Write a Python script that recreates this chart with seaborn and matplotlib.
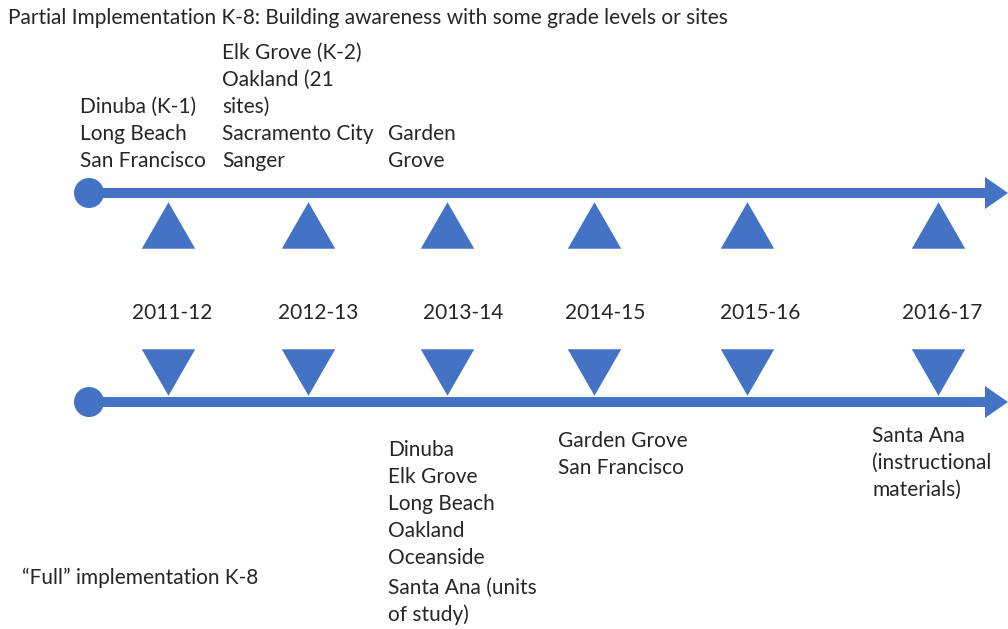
import matplotlib.pyplot as plt
from matplotlib.patches import Circle, FancyArrow
import seaborn as sns

# timeline data
years = ["2011-12", "2012-13", "2013-14", "2014-15", "2015-16", "2016-17"]
partial = {
    "2011-12": ["Dinuba (K-1)", "Long Beach", "San Francisco"],
    "2012-13": ["Elk Grove (K-2)", "Oakland (21", "sites)", "Sacramento City", "Sanger"],
    "2013-14": ["Garden", "Grove"],
}
full = {
    "2013-14": ["Dinuba", "Elk Grove", "Long Beach", "Oakland", "Oceanside",
                "Santa Ana (units", "of study)"],
    "2014-15": ["Garden Grove", "San Francisco"],
    "2016-17": ["Santa Ana", "(instructional", "materials)"],
}
title_top = "Partial Implementation K-8: Building awareness with some grade levels or sites"
title_bottom = "\u201cFull\u201d implementation K-8"

# layout (pixels)
slot_x = [168, 308, 447, 594, 747, 938]
label_x = [172, 318, 463, 605, 760, 942]
partial_text_x = {"2011-12": 80, "2012-13": 222, "2013-14": 388}
full_text_x = {"2013-14": 388, "2014-15": 558, "2016-17": 872}
full_text_y = {"2013-14": 450, "2014-15": 441, "2016-17": 436}
blue = "#4472C4"
ink = "#262626"
line_h = 27

sns.set_style("white")
plt.rcParams["font.family"] = ["Lato", "DejaVu Sans"]

fig = plt.figure(figsize=(10.08, 6.29), dpi=100)
ax = fig.add_axes([0, 0, 1, 1])
ax.set_xlim(0, 1008)
ax.set_ylim(629, 0)
ax.axis("off")

# two arrows with start dots
for y in (193, 402):
    ax.add_patch(FancyArrow(88, y, 920, 0, width=10, head_width=32, head_length=23,
                            length_includes_head=True, color=blue, lw=0))
    ax.add_patch(Circle((89, y), 15, color=blue, lw=0))

up = [(-1, -0.87), (1, -0.87), (0, 0.87)]
down = [(-1, 0.87), (1, 0.87), (0, -0.87)]
sns.scatterplot(x=slot_x, y=[225] * len(years), marker=up, s=1480,
                color=blue, linewidth=0, ax=ax)
sns.scatterplot(x=slot_x, y=[372] * len(years), marker=down, s=1480,
                color=blue, linewidth=0, ax=ax)

fs = 15
for yr, lx in zip(years, label_x):
    ax.text(lx, 313, yr, ha="center", va="center", fontsize=fs, color=ink)

for yr, names in partial.items():
    n = len(names)
    for i, name in enumerate(names):
        ax.text(partial_text_x[yr], 161 - (n - 1 - i) * line_h, name,
                ha="left", va="center", fontsize=fs, color=ink)

for yr, names in full.items():
    for i, name in enumerate(names):
        gap = 3 if i >= 5 else 0
        ax.text(full_text_x[yr], full_text_y[yr] + i * line_h + gap, name,
                ha="left", va="center", fontsize=fs, color=ink)

ax.text(8, 18, title_top, ha="left", va="center", fontsize=fs, color=ink)
ax.text(22, 578, title_bottom, ha="left", va="center", fontsize=fs, color=ink)

fig.savefig("out.png", dpi=100)
